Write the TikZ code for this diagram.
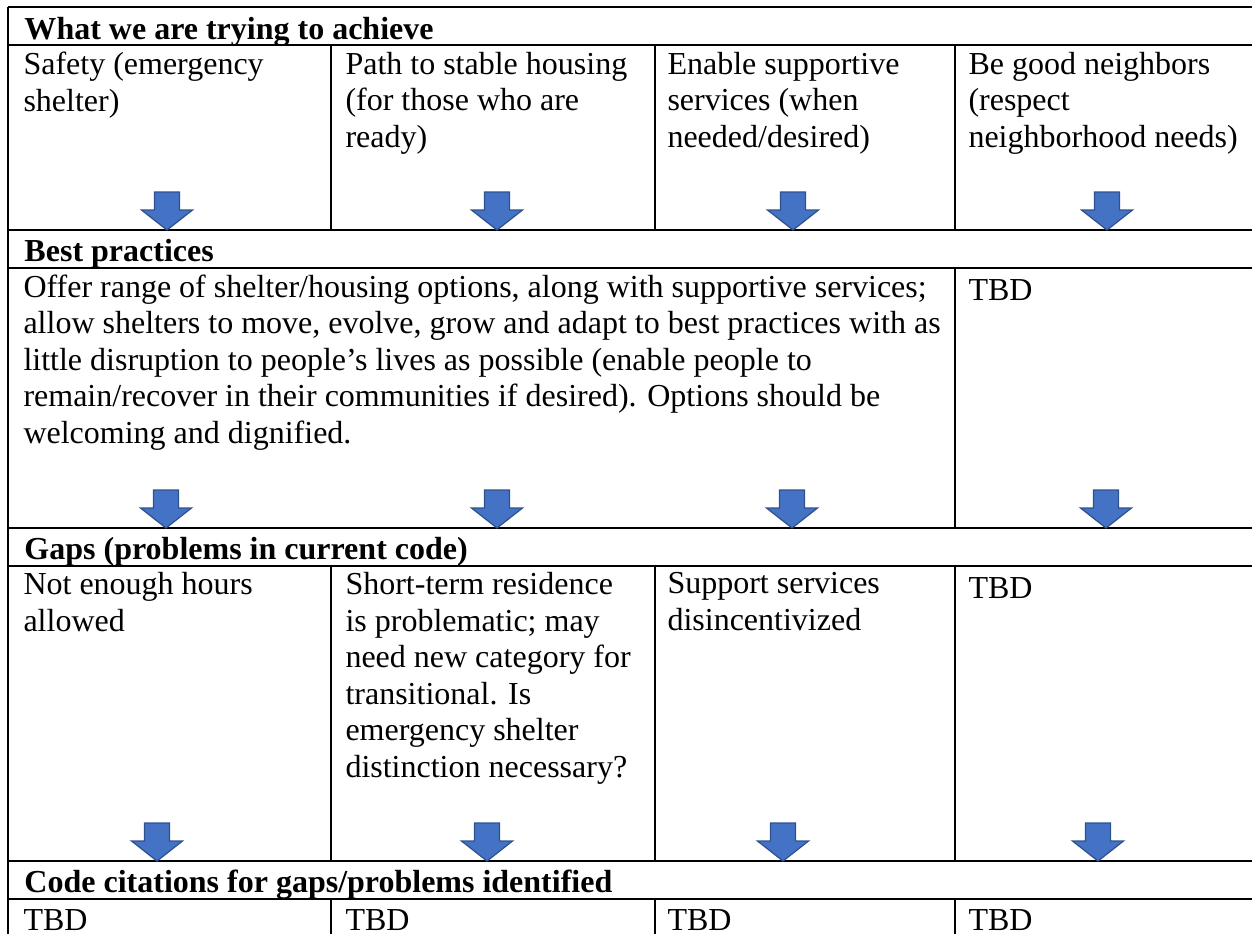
\documentclass[tikz,border=0pt]{standalone}
\usepackage{fontspec}
\setmainfont{Liberation Serif}
\usetikzlibrary{positioning}
\definecolor{ArrowBlue}{HTML}{4472C4}
\definecolor{ArrowEdge}{HTML}{2F528F}

\begin{document}
\begin{tikzpicture}[x=0.4pt,y=-0.4pt,
cell/.style={anchor=north west,inner sep=0pt,align=left,font=\fontsize{12.8}{14.6}\selectfont,execute at begin node=\strut},
head/.style={anchor=base west,inner sep=0pt,font=\fontsize{12.8}{14.6}\selectfont\bfseries},
rule/.style={line width=0.7pt},
downarr/.pic={\draw[fill=ArrowBlue,draw=ArrowEdge,line width=0.5pt]
  (-12.5,-38)--(12.5,-38)--(12.5,-20)--(25.5,-20)--(0,0)--(-25.5,-20)--(-12.5,-20)--cycle;}]
\useasboundingbox (0,0) rectangle (1252,934);
% table rules
\draw[rule] (8,7)--(1252,7);
\draw[rule] (8,45)--(1252,45);
\draw[rule] (8,230)--(1252,230);
\draw[rule] (8,268)--(1252,268);
\draw[rule] (8,528)--(1252,528);
\draw[rule] (8,566)--(1252,566);
\draw[rule] (8,861)--(1252,861);
\draw[rule] (8,899)--(1252,899);
\draw[rule] (8,7)--(8,934);
\draw[rule] (331,45)--(331,230) (655,45)--(655,230) (955,45)--(955,230);
\draw[rule] (955,268)--(955,528);
\draw[rule] (331,566)--(331,861) (655,566)--(655,861) (955,566)--(955,861);
\draw[rule] (331,899)--(331,934) (655,899)--(655,934) (955,899)--(955,934);
% headers
\node[head] (goals) at (24,39) {What we are trying to achieve};
\node[head] (best) at (24,261) {Best practices};
\node[head] (gaps) at (24,559) {Gaps (problems in current code)};
\node[head] (cites) at (24,892) {Code citations for gaps/problems identified};
% goals row
\node[cell] (safety) at (23,51.5) {Safety (emergency\\shelter)};
\node[cell] (path) at (345,51.5) {Path to stable housing\\(for those who are\\ready)};
\node[cell] (enable) at (667,51.5) {Enable supportive\\services (when\\needed/desired)};
\node[cell] (neighbors) at (968,51.5) {Be good neighbors\\(respect\\neighborhood needs)};
% best practices row
\node[cell] (offer) at (23,274) {Offer range of shelter/housing options, along with supportive services;\\allow shelters to move, evolve, grow and adapt to best practices with as\\little disruption to people's lives as possible (enable people to\\remain/recover in their communities if desired). Options should be\\welcoming and dignified.};
\node[cell] (besttbd) at (968,274) {TBD};
% gaps row
\node[cell] (hours) at (23,572) {Not enough hours\\allowed};
\node[cell] (shortterm) at (345,572) {Short-term residence\\is problematic; may\\need new category for\\transitional. Is\\emergency shelter\\distinction necessary?};
\node[cell] (support) at (667,572) {Support services\\disincentivized};
\node[cell] (gapstbd) at (968,572) {TBD};
% citations row
\node[cell] (citeA) at (23,904.5) {TBD};
\node[cell] (citeB) at (345,904.5) {TBD};
\node[cell] (citeC) at (667,904.5) {TBD};
\node[cell] (citeD) at (968,904.5) {TBD};
% arrows
\pic (arrA) at (167,230) {downarr};
\pic (arrB) at (497,230) {downarr};
\pic (arrC) at (793,230) {downarr};
\pic (arrD) at (1107,230) {downarr};
\pic (arrE) at (166,528) {downarr};
\pic (arrF) at (497,528) {downarr};
\pic (arrG) at (792,528) {downarr};
\pic (arrH) at (1106,528) {downarr};
\pic (arrI) at (157,861) {downarr};
\pic (arrJ) at (487,861) {downarr};
\pic (arrK) at (783,861) {downarr};
\pic (arrL) at (1098,861) {downarr};
\end{tikzpicture}
\end{document}
